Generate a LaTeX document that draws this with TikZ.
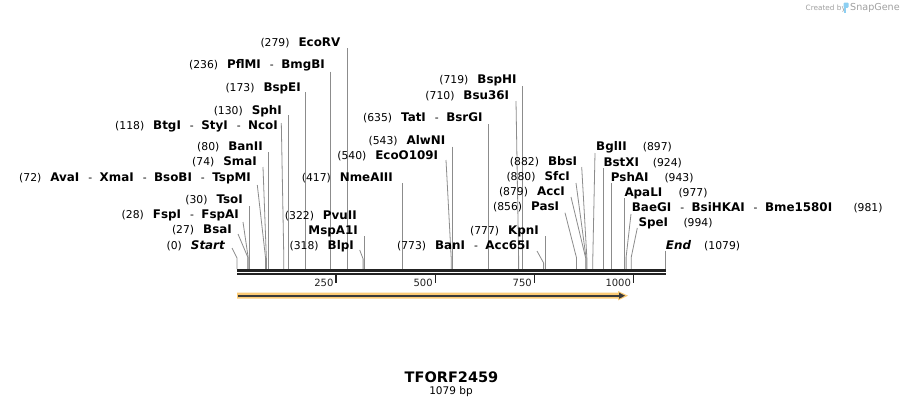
\documentclass[tikz,border=0pt]{standalone}
\usepackage{fontspec}
\setmainfont{DejaVu Sans}
\definecolor{barc}{HTML}{222222}
\definecolor{sitec}{HTML}{8C8C8C}
\definecolor{glowc}{HTML}{FCCB75}
\definecolor{featc}{HTML}{3A3A3A}
\definecolor{logoc}{HTML}{8CCFF2}
\definecolor{logot}{HTML}{A0A0A0}
\newcommand\numf{\fontsize{10.8}{12}\selectfont\mdseries\upshape}
\newcommand\namef{\fontsize{11.9}{13}\selectfont\bfseries}
\newcommand\dsh{\hspace{9pt}{\numf -}\hspace{7.5pt}}
\newcommand\nb[1]{{\numf(#1)}\hspace{9pt}}
\newcommand\sitev[2]{%
  \coordinate (t#1) at ({237+0.39666*#1},#2);
  \coordinate (b#1) at ({237+0.39666*#1},269);
  \draw[site] (t#1) -- (b#1);}
\newcommand\sitea[4]{%
  \coordinate (t#1) at (#2,#3);
  \coordinate (k#1) at ({237+0.39666*#1},#4);
  \coordinate (b#1) at ({237+0.39666*#1},269);
  \draw[site] (t#1) -- (k#1) -- (b#1);}
\begin{document}
\begin{tikzpicture}[x=1pt,y=-1pt,
  labl/.style={anchor=base east, inner sep=0pt, font=\namef},
  labr/.style={anchor=base west, inner sep=0pt, font=\namef},
  numr/.style={anchor=base west, inner sep=0pt, font=\numf},
  site/.style={draw=sitec, line width=0.8pt},
  barline/.style={draw=barc, line width=2.5pt},
  tickmark/.style={draw=barc, line width=1.6pt},
  ticklab/.style={anchor=base east, inner sep=0pt, font=\fontsize{10}{12}\selectfont, text=barc}]
\useasboundingbox (0,0) rectangle (903,408);
\fill[white] (0,0) rectangle (903,408);

% ---- site lines ----
\sitev{30}{206}
\sitev{80}{152}
\sitev{130}{115}
\sitev{173}{92}
\sitev{236}{71.5}
\sitev{279}{48}
\sitev{322}{236}
\sitev{417}{183}
\sitev{543}{146.5}
\sitev{635}{124}
\sitev{719}{86}
\sitev{777}{236}
\sitev{924}{168}
\sitev{943}{183}
\sitev{977}{198}
\sitev{1079}{250.5}
\sitea{0}{232}{248}{258}
\sitea{27}{238}{234}{257}
\sitea{28}{243}{222}{257}
\sitea{72}{257.3}{185}{258}
\sitea{74}{263}{167}{258}
\sitea{118}{281.3}{123}{258}
\sitea{318}{359.7}{250}{259}
\sitea{540}{446}{160}{258}
\sitea{710}{516}{101}{258}
\sitea{773}{537}{251}{263}
\sitea{856}{565}{212.7}{258}
\sitea{879}{571}{197}{258}
\sitea{880}{576}{183}{258}
\sitea{882}{581.7}{167}{258}
\sitea{897}{595}{153}{258}
\sitea{981}{631}{214}{257}
\sitea{994}{637.3}{228}{257}

% ---- sequence bar ----
\coordinate (ba) at (237,270.3);
\coordinate (bb) at (665.7,270.3);
\coordinate (bc) at (237,274);
\coordinate (bd) at (665.7,274);
\draw[barline] (ba) -- (bb);
\draw[barline] (bc) -- (bd);

% ---- ticks ----
\foreach \p in {250,500,750,1000}{
  \draw[tickmark] ({237+0.39666*\p},275) -- ({237+0.39666*\p},283);
  \node[ticklab] (tk\p) at ({237+0.39666*\p-2.5},286) {\p};
}

% ---- feature arrow ----
\fill[glowc] (237,292.7) -- (618,292.7) -- (618,291) -- (628,295.7) -- (618,300.4) -- (618,298.7) -- (237,298.7) -- cycle;
\coordinate (fa) at (238,295.7);
\coordinate (fb) at (620,295.7);
\draw[featc, line width=1.6pt] (fa) -- (fb);
\fill[featc] (619,292.6) -- (625,295.7) -- (619,298.8) -- cycle;

% ---- labels, left-anchored ----
\node[labl] (l279) at (340.5,46.2) {\nb{279}EcoRV};
\node[labl] (l236) at (325,68.2) {\nb{236}PflMI\dsh BmgBI};
\node[labl] (l173) at (301,91.2) {\nb{173}BspEI};
\node[labl] (l130) at (282,114.2) {\nb{130}SphI};
\node[labl] (l118) at (278,129.2) {\nb{118}BtgI\dsh StyI\dsh NcoI};
\node[labl] (l80) at (263,150.2) {\nb{80}BanII};
\node[labl] (l74) at (257,165.2) {\nb{74}SmaI};
\node[labl] (l72) at (251,181.2) {\nb{72}AvaI\dsh XmaI\dsh BsoBI\dsh TspMI};
\node[labl] (l30) at (243,203.7) {\nb{30}TsoI};
\node[labl] (l28) at (239,218.7) {\nb{28}FspI\dsh FspAI};
\node[labl] (l27) at (232,233.7) {\nb{27}BsaI};
\node[labl] (l0) at (225,249.2) {\nb{0}\itshape Start};
\node[labl] (l322) at (357,219.2) {\nb{322}PvuII};
\node[labl] (l322b) at (358,234.2) {MspA1I};
\node[labl] (l318) at (354,249.7) {\nb{318}BlpI};
\node[labl] (l417) at (393,181.2) {\nb{417}NmeAIII};
\node[labl] (l540) at (438.3,159.2) {\nb{540}EcoO109I};
\node[labl] (l543) at (445.5,144.2) {\nb{543}AlwNI};
\node[labl] (l635) at (482.7,121.2) {\nb{635}TatI\dsh BsrGI};
\node[labl] (l710) at (509.3,99.2) {\nb{710}Bsu36I};
\node[labl] (l719) at (516.7,83.2) {\nb{719}BspHI};
\node[labl] (l773) at (530,249.2) {\nb{773}BanI\dsh Acc65I};
\node[labl] (l777) at (539,234.2) {\nb{777}KpnI};
\node[labl] (l856) at (559.3,210.9) {\nb{856}PasI};
\node[labl] (l879) at (565,195.9) {\nb{879}AccI};
\node[labl] (l880) at (570,180.9) {\nb{880}SfcI};
\node[labl] (l882) at (577.3,165.9) {\nb{882}BbsI};

% ---- labels, right side ----
\node[labr] (l897) at (596,150.9) {BglII};
\node[numr] (n897) at (642.7,150.9) {(897)};
\node[labr] (l924) at (603.3,166.5) {BstXI};
\node[numr] (n924) at (652.7,166.5) {(924)};
\node[labr] (l943) at (610.7,181.5) {PshAI};
\node[numr] (n943) at (664.3,181.5) {(943)};
\node[labr] (l977) at (624.3,196.5) {ApaLI};
\node[numr] (n977) at (678.3,196.5) {(977)};
\node[labr] (l981) at (631.7,211.5) {BaeGI\dsh BsiHKAI\dsh Bme1580I};
\node[numr] (n981) at (853.3,211.5) {(981)};
\node[labr] (l994) at (638.3,226.5) {SpeI};
\node[numr] (n994) at (683.3,226.5) {(994)};
\node[labr] (l1079) at (665.7,249.2) {\itshape End};
\node[numr] (n1079) at (704,249.2) {(1079)};

% ---- title ----
\node[font=\bfseries\fontsize{14.5}{16}\selectfont, inner sep=0pt] (title) at (451.5,377) {TFORF2459};
\node[anchor=base, inner sep=0pt, font=\fontsize{10.5}{12}\selectfont] (len) at (451,394.8) {1079 bp};

% ---- logo ----
\node[anchor=base west, inner sep=0pt, text=logot, font=\fontsize{7.3}{9}\selectfont] (cr) at (805.5,10) {Created by};
\fill[logoc, rounded corners=1pt] (843.5,2.5) rectangle (848.5,7.8);
\fill[logoc] (843.5,2.5) rectangle (845.6,12.8);
\node[anchor=base west, inner sep=0pt, text=logot, font=\fontsize{9.6}{11}\selectfont] (sg) at (850,10.8) {SnapGene};
\end{tikzpicture}
\end{document}
